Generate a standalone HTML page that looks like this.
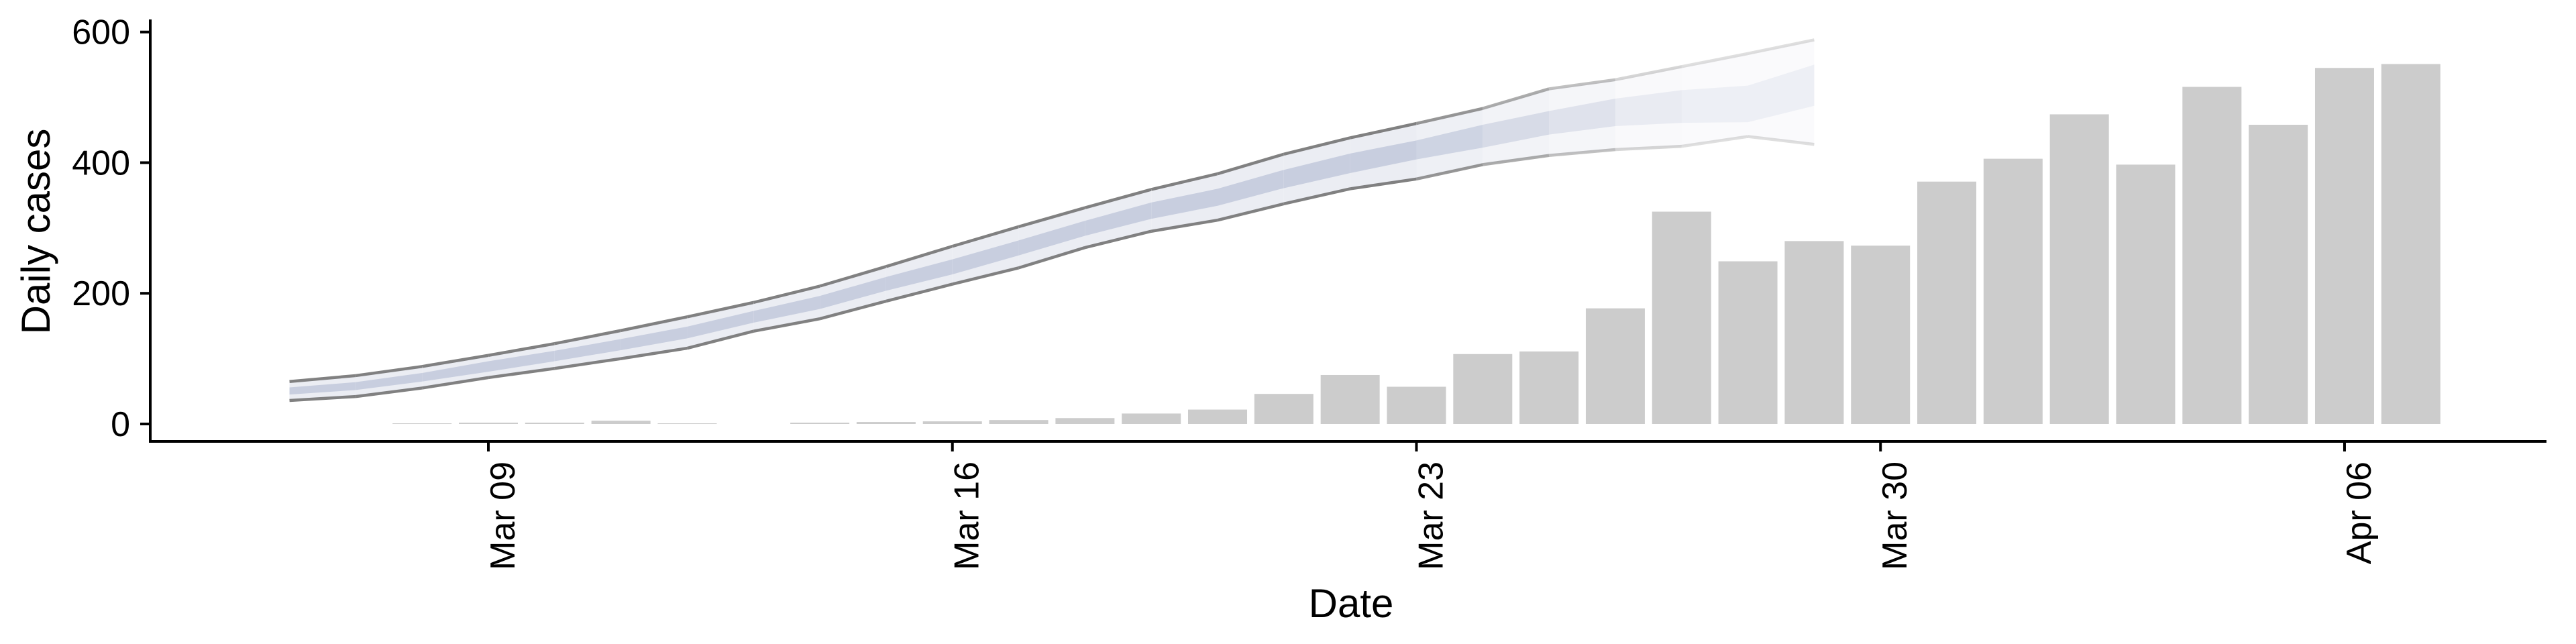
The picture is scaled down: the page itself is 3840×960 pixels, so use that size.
<!DOCTYPE html>
<html><head><meta charset="utf-8"><style>
html,body{margin:0;padding:0;background:#fff;}
svg{display:block;font-family:"Liberation Sans",sans-serif;}
</style></head><body>
<svg id="chart" width="3840" height="960" viewBox="0 0 3840 960" xmlns="http://www.w3.org/2000/svg">
<g id="bands"></g>
<g id="bars"></g>
<g id="axes"></g>
</svg>
<script>
// ---- data ----
const bandDates = ["Mar 06","Mar 07","Mar 08","Mar 09","Mar 10","Mar 11","Mar 12","Mar 13","Mar 14","Mar 15","Mar 16","Mar 17","Mar 18","Mar 19","Mar 20","Mar 21","Mar 22","Mar 23","Mar 24","Mar 25","Mar 26","Mar 27","Mar 28","Mar 29"];
const bandDays = [-3,-2,-1,0,1,2,3,4,5,6,7,8,9,10,11,12,13,14,15,16,17,18,19,20];
const hi95 = [65,74,88,105,123,143,164,186,211,241,272,302,331,359,383,413,438,460,483,513,527,547,567,588];
const lo95 = [36,42,55,71,85,100,116,142,161,188,214,239,270,295,312,337,360,375,397,411,420,425,440,428];
const hi50 = [56,64,78,96,112,130,149,173,196,225,252,281,311,339,360,389,414,434,458,479,498,511,518,550];
const lo50 = [45,52,65,80,96,113,131,155,176,204,229,258,288,314,334,361,384,405,423,443,456,461,462,487];
const barDays = [-1,0,1,2,3,4,5,6,7,8,9,10,11,12,13,14,15,16,17,18,19,20,21,22,23,24,25,26,27,28,29];
const barValues = [1,2,2,5,1,0,2,3,4,6,9,16,22,46,75,57,107,111,177,325,249,280,273,371,406,474,397,516,458,545,551];
const yTicks = [0,200,400,600];
const xTickDays = [0,7,14,21,28];
const xTickLabels = ["Mar 09","Mar 16","Mar 23","Mar 30","Apr 06"];

// ---- scales ----
const NS = "http://www.w3.org/2000/svg";
function xScale(d){ return 728 + d*98.82; }
function yScale(v){ return 632 - v*0.9738; }
function mk(tag, attrs, parent){ const e=document.createElementNS(NS,tag); for(const k in attrs) e.setAttribute(k,attrs[k]); parent.appendChild(e); return e; }

// ---- bands (segment-wise, fading at the end) ----
const bandsG = document.getElementById('bands');
const n = bandDays.length;
for(let i=0;i<n-1;i++){
  const op = i<17 ? 1 : Math.max(0.25, 1-(i-16)*0.17);
  const x0=xScale(bandDays[i]), x1=xScale(bandDays[i+1]);
  const outer = mk('polygon',{points:`${x0},${yScale(hi95[i])} ${x1},${yScale(hi95[i+1])} ${x1},${yScale(lo95[i+1])} ${x0},${yScale(lo95[i])}`,fill:'#ebedf3','fill-opacity':op},bandsG);
  
  
  const inner = mk('polygon',{points:`${x0},${yScale(hi50[i])} ${x1},${yScale(hi50[i+1])} ${x1},${yScale(lo50[i+1])} ${x0},${yScale(lo50[i])}`,fill:'#c8cedf','fill-opacity':op},bandsG);
  
  
  const lt = mk('line',{x1:x0,y1:yScale(hi95[i]),x2:x1,y2:yScale(hi95[i+1]),stroke:'#7a7a7a','stroke-width':4.5,'stroke-opacity':op*0.95},bandsG);
  
  
  const lb = mk('line',{x1:x0,y1:yScale(lo95[i]),x2:x1,y2:yScale(lo95[i+1]),stroke:'#7a7a7a','stroke-width':4.5,'stroke-opacity':op*0.95},bandsG);
  
  
}

// ---- bars ----
const barsG = document.getElementById('bars');
const bw = 88;
for(let i=0;i<barDays.length;i++){
  const v = barValues[i]; if(v<=0) continue;
  const r = mk('rect',{x:xScale(barDays[i])-bw/2,y:yScale(v),width:bw,height:Math.max(1,yScale(0)-yScale(v)),fill:'#cccccc'},barsG);
  
  
}

// ---- axes ----
const ax = document.getElementById('axes');
const yl = mk('line',{x1:224,y1:29,x2:224,y2:660,stroke:'#000','stroke-width':4},ax);


const xl = mk('line',{x1:222,y1:658,x2:3796,y2:658,stroke:'#000','stroke-width':4},ax);


yTicks.forEach(t=>{
  const y=yScale(t);
  const tk = mk('line',{x1:209,y1:y,x2:224,y2:y,stroke:'#000','stroke-width':4},ax);
  
  
  const tx = mk('text',{x:194,y:y+18,'text-anchor':'end','font-size':52,fill:'#000'},ax);
  tx.textContent = t;
  
  
});
xTickDays.forEach((d,i)=>{
  const x=xScale(d);
  const tk = mk('line',{x1:x,y1:658,x2:x,y2:673,stroke:'#000','stroke-width':4},ax);
  
  
  const tx = mk('text',{x:x+39,y:688,'text-anchor':'end','font-size':52,fill:'#000',transform:`rotate(-90 ${x+39} 688)`},ax);
  tx.textContent = xTickLabels[i];
  
  
});
const xt = mk('text',{x:2014,y:920,'text-anchor':'middle','font-size':60,fill:'#000'},ax);
xt.textContent='Date';


const yt = mk('text',{x:74,y:345,'text-anchor':'middle','font-size':60,fill:'#000',transform:'rotate(-90 74 345)'},ax);
yt.textContent='Daily cases';


</script>
</body></html>
